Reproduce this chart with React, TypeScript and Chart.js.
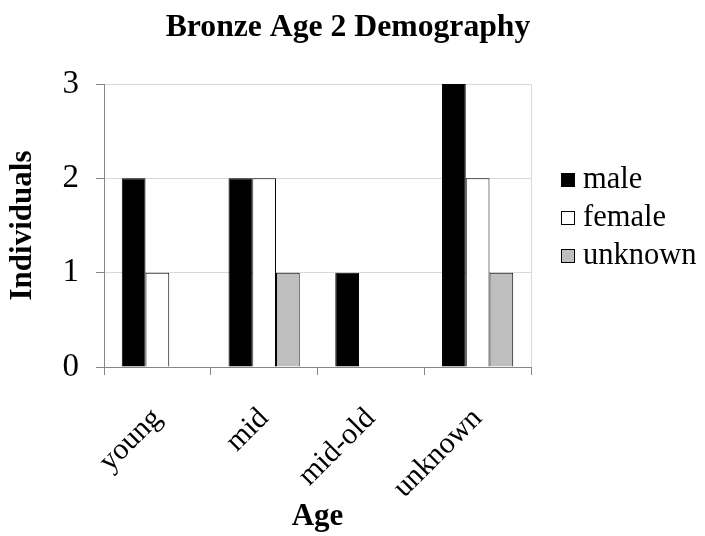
import { useEffect, useRef } from 'react';
import { Chart, registerables } from 'chart.js';

Chart.register(...registerables);

const FONT = "'Liberation Serif', 'Times New Roman', serif";

const categories = ['young', 'mid', 'mid-old', 'unknown'];
const seriesNames = ['male', 'female', 'unknown'];
const maleValues = [2, 2, 1, 3];
const femaleValues = [1, 2, 0, 2];
const unknownValues = [0, 1, 0, 1];
const seriesColors = ['#000000', '#ffffff', '#bfbfbf'];
const yMin = 0;
const yMax = 3;
const yStep = 1;

const sideLegend = {
  id: 'sideLegend',
  afterDraw(chart: any) {
    const { ctx, chartArea } = chart;
    const n = chart.data.datasets.length;
    const mid = (chartArea.top + chartArea.bottom) / 2 - 7.6;
    const gap = 38.3;
    ctx.save();
    ctx.font = `30.5px ${FONT}`;
    ctx.textBaseline = 'alphabetic';
    ctx.textAlign = 'left';
    chart.data.datasets.forEach((ds: any, i: number) => {
      const cy = mid + (i - (n - 1) / 2) * gap;
      const x = Math.round(chartArea.right + 30);
      const y = Math.round(cy - 7);
      ctx.fillStyle = ds.backgroundColor;
      ctx.fillRect(x, y, 14, 14);
      ctx.strokeStyle = '#000';
      ctx.lineWidth = 1;
      ctx.strokeRect(x + 0.5, y + 0.5, 13, 13);
      ctx.fillStyle = '#000';
      ctx.fillText(ds.label, x + 22, y + 15);
    });
    ctx.restore();
  },
};

export default function App() {
  const ref = useRef<HTMLCanvasElement | null>(null);

  useEffect(() => {
    if (!ref.current) return;
    const values = [maleValues, femaleValues, unknownValues];
    const chart = new Chart(ref.current, {
      type: 'bar',
      data: {
        labels: categories,
        datasets: seriesNames.map((name, i) => ({
          label: name,
          data: values[i],
          backgroundColor: seriesColors[i],
          borderColor: '#000000',
          borderWidth: 1,
          categoryPercentage: 0.667,
          barPercentage: 1,
          yAxisID: 'y',
        })),
      },
      options: {
        responsive: true,
        maintainAspectRatio: false,
        animation: false,
        layout: { padding: { left: 0, right: 9, top: 0, bottom: 0 } },
        plugins: {
          legend: { display: false },
          tooltip: { enabled: false },
          title: {
            display: true,
            text: 'Bronze Age 2 Demography',
            color: '#000',
            font: { family: FONT, size: 31.7, weight: 'bold' },
            padding: { top: 9, bottom: 37 },
          },
        },
        scales: {
          x: {
            offset: true,
            afterFit: (s: any) => {
              s.height = 169;
            },
            grid: {
              offset: true,
              drawOnChartArea: true,
              color: (c: any) => (c.type === 'tick' ? 'rgba(0,0,0,0)' : '#d9d9d9'),
              tickColor: '#868686',
              tickLength: 8,
            },
            border: { color: '#868686', width: 1 },
            ticks: {
              color: '#000',
              font: { family: FONT, size: 30 },
              minRotation: 45,
              maxRotation: 45,
              padding: 26,
            },
            title: {
              display: true,
              text: 'Age',
              color: '#000',
              font: { family: FONT, size: 31, weight: 'bold' },
              padding: { top: 0, bottom: 0 },
            },
          },
          y: {
            min: yMin,
            max: yMax,
            afterFit: (s: any) => {
              s.width = 104;
            },
            grid: {
              color: (c: any) => (c.tick && c.tick.value === 0 ? 'rgba(0,0,0,0)' : '#d9d9d9'),
              tickColor: '#868686',
              tickLength: 8,
            },
            border: { color: '#868686', width: 1 },
            ticks: {
              stepSize: yStep,
              color: '#000',
              font: { family: FONT, size: 33 },
              padding: 17,
            },
            title: {
              display: true,
              text: 'Individuals',
              color: '#000',
              font: { family: FONT, size: 31, weight: 'bold' },
              padding: { top: 4, bottom: 0 },
            },
          },
          legendSpace: {
            type: 'linear',
            position: 'right',
            display: true,
            afterFit: (s: any) => {
              s.width = 165;
            },
            grid: { display: false, drawTicks: false },
            border: { display: false },
            ticks: { display: false },
          },
        },
      },
      plugins: [sideLegend],
    });
    return () => chart.destroy();
  }, []);

  return (
    <div style={{ position: 'absolute', left: 0, top: 0, width: 705, height: 536 }}>
      <canvas ref={ref} />
    </div>
  );
}
